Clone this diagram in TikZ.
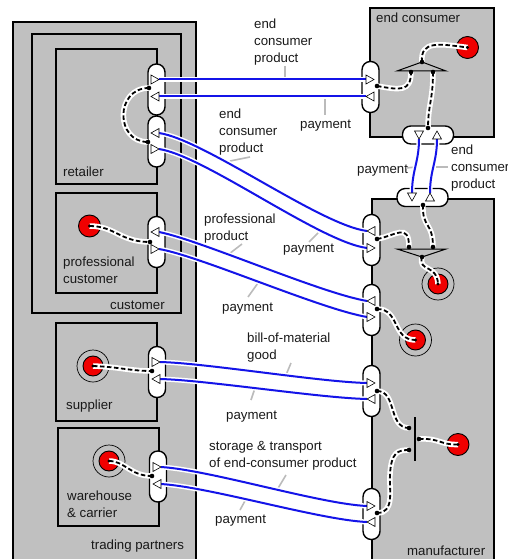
\documentclass[tikz,border=0pt]{standalone}
\usepackage{fontspec}
\setmainfont{Liberation Sans}
\definecolor{boxgray}{HTML}{C0C0C0}
\definecolor{ldgray}{HTML}{BBBBBB}
\definecolor{flowblue}{HTML}{1414E8}
\definecolor{redfill}{HTML}{F00000}
\newcommand\flowtri[3]{\draw[tri, shift={(#1,#2)}, rotate=#3] (4,0) -- (-4,-4.5) -- (-4,4.5) -- cycle;}
\begin{document}
\begin{tikzpicture}[x=1bp,y=-1bp,
  box/.style={draw=black, fill=boxgray, line width=1.6bp, inner sep=0, anchor=north west},
  port/.style={draw=black, fill=white, line width=1.4bp, rounded corners=8.3bp, inner sep=0, minimum width=17bp, minimum height=51bp},
  hport/.style={port, minimum width=51bp, minimum height=18bp},
  tri/.style={draw=black, fill=white, line width=0.6bp},
  flow/.style={draw=flowblue, line width=2bp, preaction={draw=white, line width=5bp}},
  ctrl/.style={draw=black, line width=1.8bp, dash pattern=on 4.5bp off 2.5bp, preaction={draw=white, line width=5.5bp, solid}},
  leader/.style={draw=ldgray, line width=1.6bp},
  jn/.style={draw=black, line width=1bp},
  rsrc/.style={circle, draw=black, fill=redfill, line width=0.9bp, inner sep=0, minimum size=22bp},
  rin/.style={rsrc, minimum size=20bp},
  ring/.style={circle, draw=black, line width=0.7bp, inner sep=0, minimum size=32bp},
  lbl/.style={inner sep=0, anchor=north west, align=left, text=black!90, font=\fontsize{13.3}{17}\selectfont}
]
\useasboundingbox (0,0) rectangle (508,559);

% ---------- boxes ----------
\node[box, minimum width=183bp, minimum height=544bp] (tp) at (12,21) {};
\node[box, minimum width=149bp, minimum height=279bp] (cu) at (31,33) {};
\node[box, minimum width=101bp, minimum height=135bp] (re) at (55,48) {};
\node[box, minimum width=101bp, minimum height=100bp] (pc) at (55,192) {};
\node[box, minimum width=101bp, minimum height=98bp] (su) at (55,322) {};
\node[box, minimum width=101bp, minimum height=98bp] (wh) at (57,427) {};
\node[box, minimum width=124bp, minimum height=129bp] (ec) at (369,7) {};
\node[box, minimum width=122bp, minimum height=367bp] (mf) at (371,198) {};

% ---------- box labels ----------
\node[lbl] (lec) at (376,10.1) {\strut end consumer};
\node[lbl] (lre) at (63,164.1) {\strut retailer};
\node[lbl] (lpc) at (63,254.1) {\strut professional\\customer};
\node[lbl] (lcu) at (110,297.1) {\strut customer};
\node[lbl] (lsu) at (66,397.1) {\strut supplier};
\node[lbl] (lwh) at (67,488.1) {\strut warehouse\\\& carrier};
\node[lbl] (ltp) at (91,537.1) {\strut trading partners};
\node[lbl] (lmf) at (407,543.1) {\strut manufacturer};

% ---------- ports ----------
\node[port] (pre1) at (156.5,89.5) {};
\node[port] (pre2) at (156.5,141.5) {};
\node[port] (pecl) at (370.5,87) {};
\node[hport] (pecb) at (428,135) {};
\node[hport] (pmft) at (422.5,197.5) {};
\node[port] (pmfa) at (371.5,240) {};
\node[port] (pmfb) at (371.5,310) {};
\node[port] (pmfc) at (371.5,391) {};
\node[port] (pmfd) at (371.5,514) {};
\node[port] (ppc) at (156.5,242) {};
\node[port] (psu) at (157,372) {};
\node[port] (pwh) at (158,476.5) {};

% ---------- flow labels ----------
\node[lbl] (t1) at (254,16.1) {\strut end\\consumer\\product};
\node[lbl] (t2) at (300,116.1) {\strut payment};
\node[lbl] (t3) at (219,106.1) {\strut end\\consumer\\product};
\node[lbl] (t4) at (283,240.1) {\strut payment};
\node[lbl] (t5) at (204,211.1) {\strut professional\\product};
\node[lbl] (t6) at (222,299.1) {\strut payment};
\node[lbl] (t7) at (247,330.1) {\strut bill-of-material\\good};
\node[lbl] (t8) at (226,407.1) {\strut payment};
\node[lbl] (t9) at (209,438.1) {\strut storage \& transport\\of end-consumer product};
\node[lbl] (t10) at (215,511.1) {\strut payment};
\node[lbl] (t11) at (357,161.1) {\strut payment};
\node[lbl] (t12) at (451,142.1) {\strut end\\consumer\\product};

% ---------- leaders ----------
\draw[leader] (285,66) -- (285,79);
\draw[leader] (325,97) -- (325,115);
\draw[leader] (230,161) -- (250,157);
\draw[leader] (318,233) -- (309,242);
\draw[leader] (229,254) -- (242,244);
\draw[leader] (258,283) -- (248,297);
\draw[leader] (286,375) -- (291,363);
\draw[leader] (255,388) -- (251,400);
\draw[leader] (277,490) -- (286,475);
\draw[leader] (246,499) -- (240,510);
\draw[leader] (406,168) -- (416,167);
\draw[leader] (436,167) -- (448,167);

% ---------- flow end points ----------
\coordinate (f1a) at (159,79.5);  \coordinate (f1b) at (366,79.5);
\coordinate (f2a) at (366,96.5);  \coordinate (f2b) at (159,96.5);
\coordinate (f3a) at (367,231);   \coordinate (f3b) at (159,133);
\coordinate (f4a) at (159,149);   \coordinate (f4b) at (367,248);
\coordinate (f5a) at (367,301);   \coordinate (f5b) at (159,232);
\coordinate (f6a) at (159,249);   \coordinate (f6b) at (367,317);
\coordinate (f7a) at (160,362);   \coordinate (f7b) at (367,383);
\coordinate (f8a) at (367,399);   \coordinate (f8b) at (160,379);
\coordinate (f9a) at (161,467);   \coordinate (f9b) at (367,506);
\coordinate (f10a) at (367,522);  \coordinate (f10b) at (161,484);
\coordinate (f11a) at (419,139);  \coordinate (f11b) at (412,193);
\coordinate (f12a) at (430,193);  \coordinate (f12b) at (437,139);

% ---------- flows ----------
\draw[flow] (f1a) -- (f1b);
\draw[flow] (f2a) -- (f2b);
\draw[flow] (f3a) .. controls (320,225) and (205,140) .. (f3b);
\draw[flow] (f4a) .. controls (205,156) and (320,242) .. (f4b);
\draw[flow] (f5a) .. controls (320,293) and (200,240) .. (f5b);
\draw[flow] (f6a) .. controls (200,256) and (320,309) .. (f6b);
\draw[flow] (f7a) .. controls (205,363) and (320,382) .. (f7b);
\draw[flow] (f8a) .. controls (320,398) and (205,380) .. (f8b);
\draw[flow] (f9a) .. controls (210,470) and (320,504) .. (f9b);
\draw[flow] (f10a) .. controls (320,520) and (210,487) .. (f10b);
\draw[flow] (f11a) .. controls (419,162) and (412,170) .. (f11b);
\draw[flow] (f12a) .. controls (430,170) and (437,162) .. (f12b);

% ---------- triangles ----------
\flowtri{155}{79.5}{0}   \flowtri{155}{96.5}{180}
\flowtri{155}{133}{180}  \flowtri{155}{149}{0}
\flowtri{370}{79.5}{0}   \flowtri{370}{96.5}{180}
\flowtri{419}{135}{-90}  \flowtri{437}{135}{90}
\flowtri{412}{197}{-90}  \flowtri{430}{197}{90}
\flowtri{371}{231}{180}  \flowtri{371}{248}{0}
\flowtri{371}{301}{180}  \flowtri{371}{317}{0}
\flowtri{371}{383}{0}    \flowtri{371}{399}{180}
\flowtri{371}{506}{0}    \flowtri{371}{522}{180}
\flowtri{155}{232}{180}  \flowtri{155}{249}{0}
\flowtri{156}{362}{0}    \flowtri{156}{379}{180}
\flowtri{157}{467}{0}    \flowtri{157}{484}{180}

% ---------- red sources / sinks ----------
\node[rsrc] (rec) at (467.5,47.5) {};
\node[rsrc] (rpc) at (89.5,226) {};
\node[rsrc] (rmf3) at (458,444.5) {};
\node[ring] (gsu) at (93,366) {};   \node[rin] (rsu) at (93,366) {};
\node[ring] (gwh) at (109,461) {};  \node[rin] (rwh) at (109,461) {};
\node[ring] (gmf1) at (438,284) {}; \node[rin] (rmf1) at (438,284) {};
\node[ring] (gmf2) at (415.5,340) {}; \node[rin] (rmf2) at (415.5,340) {};

% ---------- control coordinates ----------
\coordinate (cre1) at (149,88);  \coordinate (cre2) at (148,142);
\coordinate (cecl) at (377,86);  \coordinate (cecb) at (428,128);
\coordinate (cmft) at (423,205); \coordinate (cmfa) at (377,239);
\coordinate (cmfb) at (377,309); \coordinate (cmfc) at (377,391);
\coordinate (cmfd) at (377,513); \coordinate (cpc) at (150,242);
\coordinate (csu) at (152,371);  \coordinate (cwh) at (152,476);
\coordinate (j1p) at (422,62);   \coordinate (j1l) at (411,72);  \coordinate (j1r) at (433,72);
\coordinate (j2l) at (409,247);  \coordinate (j2r) at (433,247); \coordinate (j2b) at (422,257);
\coordinate (j3a) at (409,428);  \coordinate (j3b) at (409,450); \coordinate (j3c) at (419,439);

% ---------- control connectors ----------
\draw[ctrl] (cre1) .. controls (115,88) and (115,142) .. (cre2);
\draw[ctrl] (cecl) .. controls (400,90) and (411,92) .. (j1l);
\draw[ctrl] (j1r) .. controls (433,100) and (428,105) .. (cecb);
\draw[ctrl] (j1p) .. controls (420,40) and (440,44) .. (rec.center);
\draw[ctrl] (cmft) .. controls (422,228) and (433,222) .. (j2r);
\draw[ctrl] (cmfa) .. controls (395,236) and (409,222) .. (j2l);
\draw[ctrl] (j2b) .. controls (418,272) and (437,264) .. (rmf1.center);
\draw[ctrl] (cmfb) .. controls (400,309) and (392,340) .. (rmf2.center);
\draw[ctrl] (cmfc) .. controls (397,391) and (388,428) .. (j3a);
\draw[ctrl] (cmfd) .. controls (395,513) and (389,490) .. (390,475) .. controls (391,452) and (398,450) .. (j3b);
\draw[ctrl] (j3c) .. controls (440,438) and (440,445) .. (rmf3.center);
\draw[ctrl] (rpc.center) .. controls (115,226) and (120,242) .. (cpc);
\draw[ctrl] (rsu.center) .. controls (120,367) and (130,371) .. (csu);
\draw[ctrl] (rwh.center) .. controls (125,461) and (130,476) .. (cwh);

% ---------- junctions ----------
\draw[jn] (397,71) -- (j1p) -- (446,71) -- cycle;
\draw[jn] (397,249) -- (446,249) -- (j2b) -- cycle;
\draw[line width=1.2bp] (415,417) -- (415,461);

% ---------- dots ----------
\foreach \c in {cre1,cre2,cecl,cecb,cmft,cmfa,cmfb,cmfc,cmfd,cpc,csu,cwh,j1p,j1l,j1r,j2l,j2r,j2b,j3a,j3b,j3c}
  \fill (\c) circle[radius=2.3bp];
\foreach \c in {rec,rpc,rmf3,rsu,rwh,rmf1,rmf2}
  \fill (\c.center) circle[radius=1.6bp];
\end{tikzpicture}
\end{document}
